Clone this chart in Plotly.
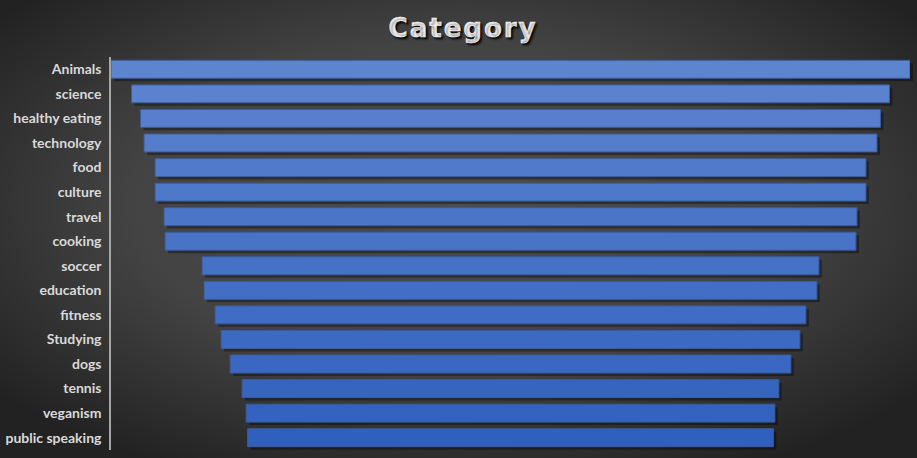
import plotly.graph_objects as go

categories = ["Animals", "science", "healthy eating", "technology", "food", "culture",
              "travel", "cooking", "soccer", "education", "fitness", "Studying",
              "dogs", "tennis", "veganism", "public speaking"]
values = [798, 757, 739, 732, 710, 710, 692, 690, 616, 612, 590, 578, 560, 536, 528, 525]

W, H = 917, 458
ml, mt, mr, mb = 111, 57, 4, 5
pw, ph = W - ml - mr, H - mt - mb
off = 3
vmax = max(values)

def lerp(c1, c2, t):
    return "rgb(%d,%d,%d)" % tuple(round(a + (b - a) * t) for a, b in zip(c1, c2))

top_c, bot_c = (93, 132, 207), (48, 96, 190)
n = len(categories)
colors = [lerp(top_c, bot_c, i / (n - 1)) for i in range(n)]

fig = go.Figure()
# soft drop shadow
fig.add_trace(go.Funnel(
    y=categories, x=values, xaxis="x", yaxis="y",
    textinfo="none", hoverinfo="skip",
    marker=dict(color="rgba(0,0,0,0.35)", line=dict(width=0)),
    connector=dict(visible=False), showlegend=False,
))
fig.add_trace(go.Funnel(
    y=categories, x=values, xaxis="x2", yaxis="y2",
    textinfo="none",
    marker=dict(color=colors, line=dict(color="#3b5c9e", width=1)),
    connector=dict(visible=False), showlegend=False,
))

rng = [-vmax / 2, vmax / 2]
svg = ("data:image/svg+xml;utf8,<svg xmlns='http://www.w3.org/2000/svg' width='917' height='458'>"
       "<defs><radialGradient id='g' cx='50%25' cy='45%25' r='65%25'>"
       "<stop offset='0' stop-color='%234c4c4c'/><stop offset='0.55' stop-color='%23434343'/>"
       "<stop offset='1' stop-color='%23222222'/></radialGradient></defs>"
       "<rect width='917' height='458' fill='url(%23g)'/></svg>")

fig.update_layout(
    width=W, height=H,
    margin=dict(l=ml, r=mr, t=mt, b=mb),
    paper_bgcolor="#3a3a3a", plot_bgcolor="rgba(0,0,0,0)",
    funnelgap=0.27,
    title=dict(text="Category", x=0.505, xanchor="center", y=0.938, yanchor="middle",
               font=dict(family="DejaVu Sans", size=26, color="#f2f2f2", weight="bold",
                         shadow="2px 2px 2px rgba(0,0,0,0.85)")),
    xaxis=dict(domain=[off / pw, 1], range=rng, visible=False, fixedrange=True),
    yaxis=dict(domain=[0, 1 - off / ph], visible=False, autorange="reversed",
               categoryorder="array", categoryarray=categories),
    xaxis2=dict(domain=[0, 1 - off / pw], range=rng, visible=False, anchor="y2"),
    yaxis2=dict(domain=[off / ph, 1], anchor="x2", autorange="reversed",
                categoryorder="array", categoryarray=categories,
                showline=True, linecolor="#a6a6a6", linewidth=1.5,
                showgrid=False, ticks="", ticklabelstandoff=5,
                tickfont=dict(family="Lato", size=14, color="#d9d9d9", weight="bold")),
    images=[dict(source=svg, xref="paper", yref="paper",
                 x=-ml / pw, y=1 + mt / ph, sizex=W / pw, sizey=H / ph,
                 sizing="stretch", layer="below", xanchor="left", yanchor="top")],
)

fig.write_html(
    "out.html",
    config={"displayModeBar": False},
    post_script=("document.body.style.margin='0';document.body.style.overflow='hidden';"
                 "document.querySelectorAll('.gtitle').forEach(function(t){"
                 "t.style.letterSpacing='2px';t.style.strokeWidth='0.6px';t.style.stroke='#f2f2f2';});"),
)
